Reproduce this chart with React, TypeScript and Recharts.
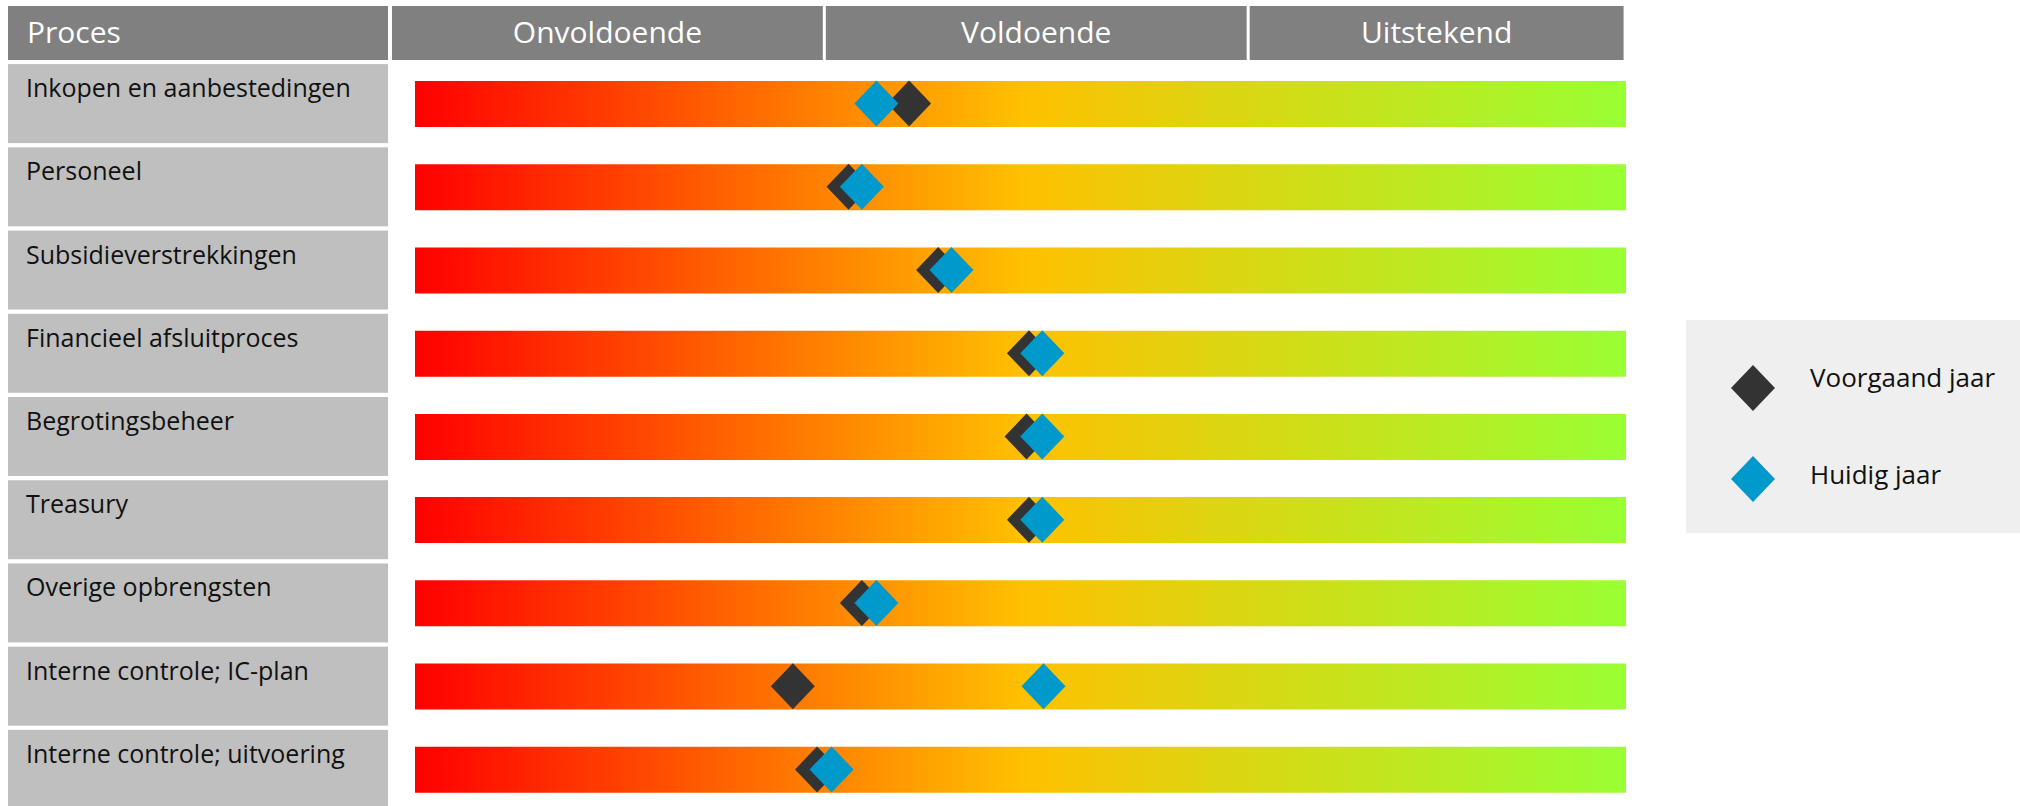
import React from "react";
import { Bar, ComposedChart, Legend, Line, XAxis, YAxis } from "recharts";

const processen = [
  "Inkopen en aanbestedingen",
  "Personeel",
  "Subsidieverstrekkingen",
  "Financieel afsluitproces",
  "Begrotingsbeheer",
  "Treasury",
  "Overige opbrengsten",
  "Interne controle; IC-plan",
  "Interne controle; uitvoering",
];
const voorgaandJaar = [40.8, 35.8, 43.2, 50.7, 50.5, 50.7, 36.9, 31.2, 33.2];
const huidigJaar = [38.1, 36.9, 44.3, 51.8, 51.8, 51.8, 38.1, 51.9, 34.4];
const schaalMax = 100;
const kolomKop = "Proces";
const beoordelingen = ["Onvoldoende", "Voldoende", "Uitstekend"];
const beoordelingGrenzen = [-1.9, 33.8, 68.8, 99.8];
const reeksVolgorde = ["voorgaand", "huidig"];

const kleuren: Record<string, string> = { voorgaand: "#333333", huidig: "#0099CC" };
const font = "'Open Sans', sans-serif";

const data = processen.map((proces, i) => ({
  proces,
  schaal: schaalMax,
  voorgaand: voorgaandJaar[i],
  huidig: huidigJaar[i],
}));

const kopTicks = beoordelingen.map((_, i) => (beoordelingGrenzen[i] + beoordelingGrenzen[i + 1]) / 2);

const diamant = (cx: number, cy: number, fill: string, key?: string) => (
  <polygon key={key} points={`${cx},${cy - 23} ${cx + 22},${cy} ${cx},${cy + 23} ${cx - 22},${cy}`} fill={fill} />
);

const maakDot = (kleur: string) => (props: any) => {
  if (props.cx == null || props.cy == null) return <g key={`leeg-${props.index}`} />;
  return diamant(props.cx, props.cy, kleur, `d-${props.index}`);
};

const ProcesTick = (props: any) => {
  const { y, payload } = props;
  const top = y - 39.5;
  return (
    <g>
      <rect x={8} y={top} width={380} height={79} fill="#BFBFBF" />
      <text x={26} y={top + 33} fontSize={25} fontFamily={font} fill="#111">
        {payload.value}
      </text>
    </g>
  );
};

const BeoordelingTick = (props: any) => {
  const { x, payload, index } = props;
  const ppu = (props.width || 1211) / schaalMax;
  const van = beoordelingGrenzen[index];
  const tot = beoordelingGrenzen[index + 1];
  const links = x + (van - payload.value) * ppu + (index > 0 ? 1.5 : 0);
  const rechts = x + (tot - payload.value) * ppu - (index < beoordelingen.length - 1 ? 1.5 : 0);
  return (
    <g>
      {index === 0 && (
        <g>
          <rect x={8} y={6} width={380} height={54} fill="#808080" />
          <text x={27} y={43} fontSize={30} fontFamily={font} fill="#fff">
            {kolomKop}
          </text>
        </g>
      )}
      <rect x={links} y={6} width={rechts - links} height={54} fill="#808080" />
      <text x={(links + rechts) / 2} y={43} fontSize={30} fontFamily={font} fill="#fff" textAnchor="middle">
        {beoordelingen[index]}
      </text>
    </g>
  );
};

const renderLegend = (props: any) => {
  const items = reeksVolgorde
    .map((k) => (props.payload || []).find((p: any) => p.dataKey === k))
    .filter(Boolean);
  const rijen = [
    { cy: 68, base: 67 },
    { cy: 159, base: 164 },
  ];
  return (
    <svg width={334} height={213} style={{ display: "block", background: "#EFEFEF" }}>
      {items.map((p: any, i: number) => (
        <g key={p.dataKey}>
          {diamant(67, rijen[i].cy, kleuren[p.dataKey])}
          <text x={124} y={rijen[i].base} fontSize={26} fontFamily={font} fill="#111">
            {p.value}
          </text>
        </g>
      ))}
    </svg>
  );
};

export default function App() {
  return (
    <div style={{ position: "absolute", left: 0, top: 0, width: 2020, height: 806, overflow: "hidden", background: "#fff" }}>
      <ComposedChart
        width={2020}
        height={812}
        data={data}
        layout="vertical"
        margin={{ top: 0, right: 394, bottom: 1, left: 15 }}
        barCategoryGap={0}
      >
        <defs>
          <linearGradient id="schaalVerloop" x1="0" y1="0" x2="1" y2="0">
            <stop offset="0%" stopColor="#FF0000" />
            <stop offset="50%" stopColor="#FFC000" />
            <stop offset="100%" stopColor="#99FF33" />
          </linearGradient>
        </defs>
        <XAxis
          type="number"
          orientation="top"
          domain={[0, schaalMax]}
          ticks={kopTicks}
          interval={0}
          height={62}
          axisLine={false}
          tickLine={false}
          tick={<BeoordelingTick />}
        />
        <YAxis
          type="category"
          dataKey="proces"
          width={400}
          axisLine={false}
          tickLine={false}
          interval={0}
          tick={<ProcesTick />}
        />
        <Bar dataKey="schaal" fill="url(#schaalVerloop)" barSize={46} legendType="none" isAnimationActive={false} />
        <Line
          dataKey="voorgaand"
          name="Voorgaand jaar"
          stroke="none"
          dot={maakDot(kleuren.voorgaand)}
          activeDot={false}
          isAnimationActive={false}
        />
        <Line
          dataKey="huidig"
          name="Huidig jaar"
          stroke="none"
          dot={maakDot(kleuren.huidig)}
          activeDot={false}
          isAnimationActive={false}
        />
        <Legend
          layout="horizontal"
          align="center"
          verticalAlign="middle"
          wrapperStyle={{ left: 1686, top: 320, width: 334, height: 213 }}
          content={renderLegend}
        />
      </ComposedChart>
    </div>
  );
}
